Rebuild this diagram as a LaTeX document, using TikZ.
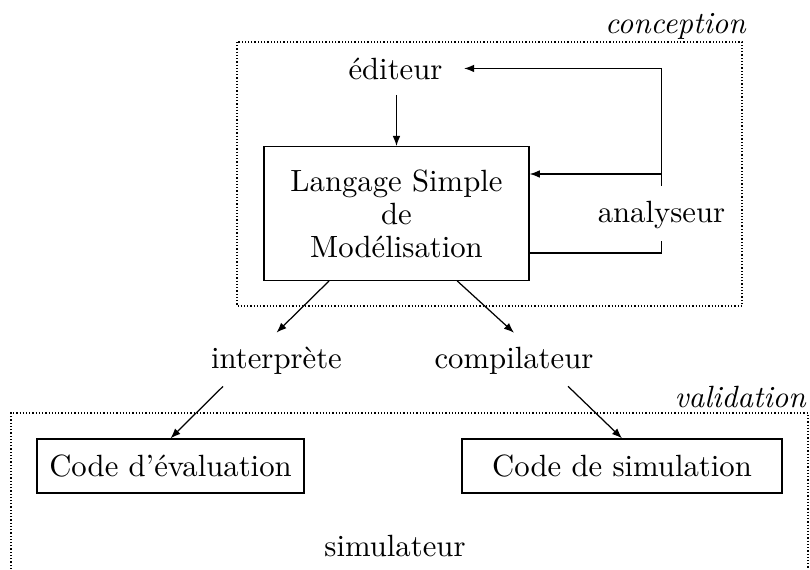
\documentclass[tikz,border=0pt]{standalone}
\usetikzlibrary{arrows.meta}
\begin{document}
\begin{tikzpicture}[x=0.3255pt,y=-0.3255pt,
  every node/.style={font=\fontsize{10}{10.7}\selectfont},
  dotbox/.style={draw,dash pattern=on 0.4pt off 0.65pt},
  plainbox/.style={draw,rectangle,inner sep=0pt,align=center},
  lbl/.style={anchor=base,inner sep=3.33pt},
  arr/.style={-{Latex[length=3.3pt,width=2.5pt]}}]
\useasboundingbox (0,0) rectangle (810,569);
% groups
\draw[dotbox] (237,42) rectangle (742,306);
\node[anchor=base east,inner sep=0pt] (conc) at (747,33) {\textit{conception}};
\draw[dotbox] (11,569) -- (11,413) -- (808,413) -- (808,569);
\node[anchor=base east,inner sep=0pt] (valid) at (807,407) {\textit{validation}};
% nodes
\node[lbl] (edit) at (395.5,79) {éditeur};
\node[plainbox,minimum width=86.3pt,minimum height=43.5pt] (lsm) at (396.5,213.5)
  {Langage Simple\\de\\Modélisation};
\node[lbl] (ana) at (661.5,222) {analyseur};
\node[lbl] (interp) at (276.5,368) {interprète};
\node[lbl] (compil) at (514,368) {compilateur};
\node[plainbox,minimum width=86.9pt,minimum height=17.6pt] (eval) at (170.5,466) {Code d'évaluation};
\node[plainbox,minimum width=104.2pt,minimum height=17.6pt] (sim) at (622,466) {Code de simulation};
\node[lbl] (simu) at (395,556) {simulateur};
% helper coordinates
\coordinate (lsmin) at ([yshift=12.86pt]lsm.east);
\coordinate (lsmout) at ([yshift=-12.86pt]lsm.east);
% connectors
\draw[arr,shorten <=1.5pt] (lsm.north |- edit.south) -- (lsm.north);
\draw[arr,shorten >=3.5pt] ([yshift=1.3pt]ana.north) -- (ana.north |- edit.east) -- (edit.east);
\draw[arr] (ana.north |- lsmin) -- (lsmin);
\draw (lsmout) -- (ana.south |- lsmout) -- ([yshift=-0.6pt]ana.south);
\draw[arr] (lsm.225) -- ([yshift=1pt]interp.north);
\draw[arr] (lsm.-48) -- ([yshift=1pt]compil.north);
\draw[arr] ([xshift=-17.4pt,yshift=-0.5pt]interp.south) -- (eval.north);
\draw[arr] ([xshift=17.6pt,yshift=-0.5pt]compil.south) -- (sim.north);
\end{tikzpicture}
\end{document}
